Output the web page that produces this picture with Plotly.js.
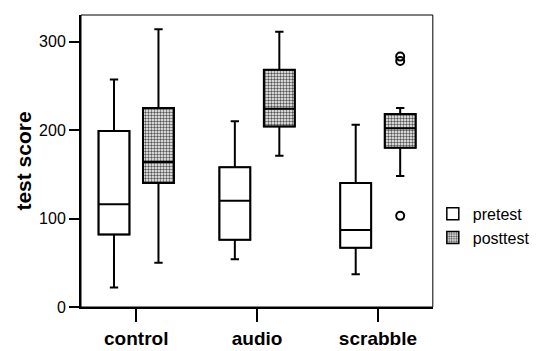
<!DOCTYPE html>
<html><head><meta charset="utf-8">
<script src="https://cdn.plot.ly/plotly-3.0.1.min.js"></script>
<style>html,body{margin:0;padding:0;background:#fff}#chart{width:539px;height:351px}</style>
</head><body><div id="chart"></div>
<script>
const categories = ["control", "audio", "scrabble"];
const seriesNames = ["pretest", "posttest"];
const preLower  = [22, 54, 37];
const preQ1     = [82, 76, 67];
const preMedian = [116, 120, 87];
const preQ3     = [199, 158, 140];
const preUpper  = [257, 210, 206];
const postLower  = [50, 171, 148];
const postQ1     = [140, 204, 180];
const postMedian = [164, 224, 202];
const postQ3     = [225, 268, 218];
const postUpper  = [314, 311, 225];
const outlierCategory = ["scrabble", "scrabble", "scrabble"];
const outlierValues = [283, 278, 103];
const yTicks = [0, 100, 200, 300];

const OFFSET = 0.184, W = 0.256;
const FONT = '"Liberation Sans", Arial, sans-serif';
const idx = categories.map((c, i) => i);
const prePos = idx.map(i => i - OFFSET);
const postPos = idx.map(i => i + OFFSET);
const diff = (a, b) => a.map((v, i) => v - b[i]);

const boxCommon = {
  type: 'box', width: W, boxpoints: false, whiskerwidth: 0.27,
  line: {color: '#000', width: 2}, showlegend: false, hoverinfo: 'skip'
};

const traces = [
  {type: 'bar', name: seriesNames[0], x: prePos, base: preQ1, y: diff(preQ3, preQ1), width: W,
   marker: {color: '#fff', line: {color: '#000', width: 1.5}}, hoverinfo: 'skip'},
  {type: 'bar', name: seriesNames[1], x: postPos, base: postQ1, y: diff(postQ3, postQ1), width: W,
   marker: {color: '#fff', line: {color: '#000', width: 1.5},
            pattern: {shape: '.', fgcolor: '#555', bgcolor: '#fff', size: 3, solidity: 0.5}}, hoverinfo: 'skip'},
  Object.assign({}, boxCommon, {x: prePos, q1: preQ1, median: preMedian, q3: preQ3,
    lowerfence: preLower, upperfence: preUpper, fillcolor: 'rgba(0,0,0,0)'}),
  Object.assign({}, boxCommon, {x: postPos, q1: postQ1, median: postMedian, q3: postQ3,
    lowerfence: postLower, upperfence: postUpper, fillcolor: 'rgba(0,0,0,0)'}),
  {type: 'scatter', mode: 'markers', showlegend: false, hoverinfo: 'skip',
   x: outlierCategory.map(c => categories.indexOf(c) + OFFSET), y: outlierValues,
   marker: {symbol: 'circle-open', size: 8, color: '#000', line: {width: 2, color: '#000'}}}
];

const layout = {
  width: 539, height: 351,
  margin: {l: 81, r: 106, t: 15, b: 44},
  paper_bgcolor: '#fff', plot_bgcolor: '#fff',
  barmode: 'overlay',
  font: {family: FONT, color: '#000', size: 16},
  xaxis: {
    range: [-0.457, 2.454], tickvals: idx, ticktext: categories,
    ticks: 'outside', ticklen: 13, tickwidth: 1.5, tickcolor: '#000',
    showline: true, linecolor: '#000', linewidth: 2, showgrid: false, zeroline: false,
    tickfont: {size: 19, family: FONT, weight: 'bold'}
  },
  yaxis: {
    range: [0, 330], tickvals: yTicks, ticks: 'outside', ticklen: 10, tickwidth: 2, tickcolor: '#000',
    showline: true, linecolor: '#000', linewidth: 2, showgrid: false, zeroline: false,
    tickfont: {size: 16, family: FONT},
    title: {text: 'test score', font: {size: 21, family: FONT, weight: 'bold'}, standoff: 2}
  },
  shapes: [
    {type: 'rect', xref: 'paper', yref: 'paper', x0: 0, x1: 1, y0: 0, y1: 1,
     line: {color: '#000', width: 1}, fillcolor: 'rgba(0,0,0,0)'}
  ],
  legend: {xref: 'container', yref: 'container', x: 0.803, y: 0.439, xanchor: 'left', yanchor: 'top',
           font: {size: 16, family: FONT}, bgcolor: 'rgba(0,0,0,0)', tracegroupgap: 0, itemwidth: 30},
  showlegend: true
};

Plotly.newPlot('chart', traces, layout, {displayModeBar: false, staticPlot: true});
</script></body></html>
